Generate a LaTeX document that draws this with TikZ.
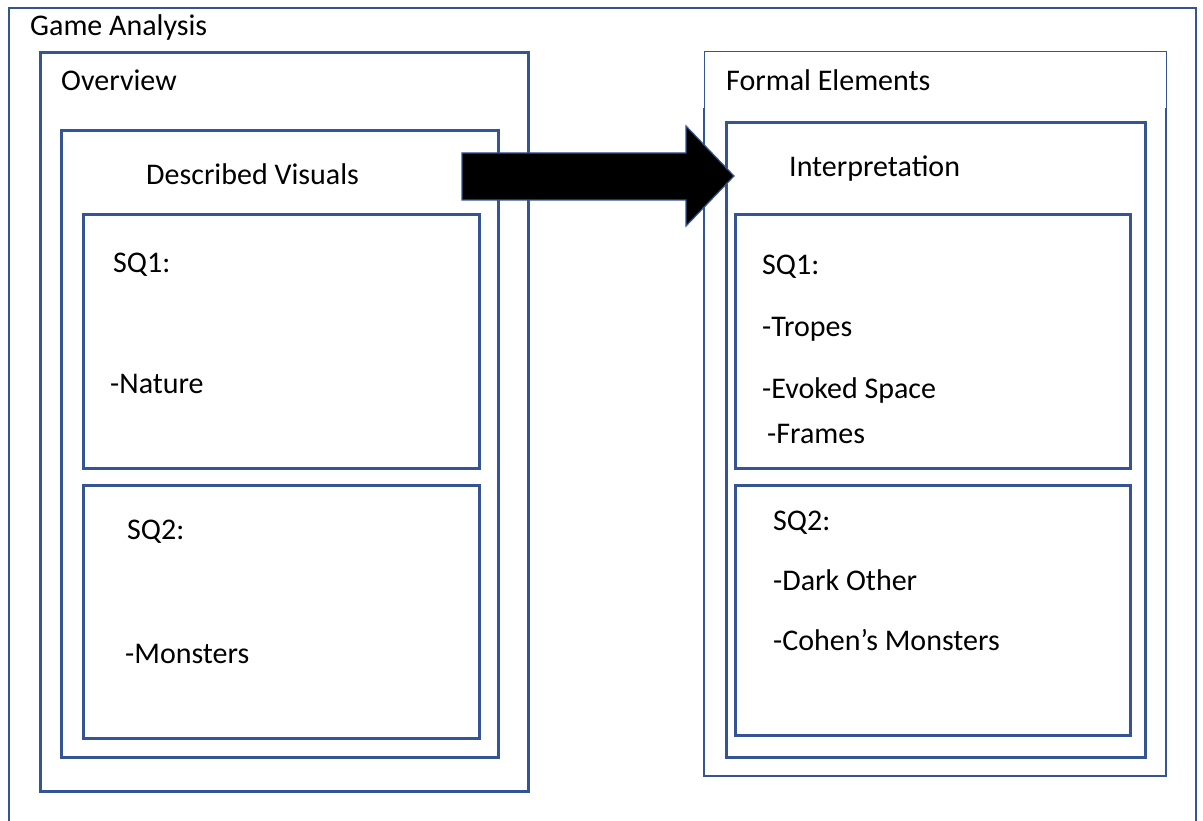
\documentclass[tikz,border=0pt]{standalone}
\usepackage{fontspec}
\setmainfont{Carlito}
\definecolor{boxblue}{RGB}{52,84,148}
\begin{document}
\begin{tikzpicture}[x=1pt,y=-1pt,
  frame/.style={draw=boxblue,line width=2.8pt,rectangle,inner sep=0pt,anchor=north west},
  lbl/.style={anchor=base west,inner sep=0pt,font=\fontsize{30}{34}\selectfont,text=black}]
\useasboundingbox (0,0) rectangle (1203,821);
% outer frame (open at the bottom)
\draw[boxblue,line width=2.2pt] (9,830) -- (9,8) -- (1196,8) -- (1196,830);
% left column
\node[frame,minimum width=488pt,minimum height=739pt] (ov) at (39,51) {};
\node[frame,minimum width=437pt,minimum height=627pt] (dv) at (60,129) {};
\node[frame,minimum width=396pt,minimum height=254pt] (lsq1) at (82,213) {};
\node[frame,minimum width=396pt,minimum height=253pt] (lsq2) at (82,484) {};
% right column
\node[draw=boxblue,line width=1pt,rectangle,inner sep=0pt,anchor=north west,minimum width=462pt,minimum height=725pt] (fe) at (704,51) {};
\draw[boxblue,line width=2.8pt] (704,108) -- (704,776) -- (1166,776) -- (1166,108);
\node[frame,minimum width=419pt,minimum height=635pt] (ip) at (725,121) {};
\node[frame,minimum width=395pt,minimum height=254pt] (rsq1) at (734,213) {};
\node[frame,minimum width=395pt,minimum height=250pt] (rsq2) at (734,484) {};
% texts
\node[lbl] (tga) at (30,36) {Game Analysis};
\node[lbl] (tov) at (61,91) {Overview};
\node[lbl] (tdv) at (146,185) {Described Visuals};
\node[lbl] (tl1) at (113,273) {SQ1:};
\node[lbl] (tnat) at (110,393) {-Nature};
\node[lbl] (tl2) at (127,539) {SQ2:};
\node[lbl] (tmon) at (125,663) {-Monsters};
\node[lbl] (tfe) at (726,91) {Formal Elements};
\node[lbl] (tip) at (789,177) {Interpretation};
\node[lbl] (tr1) at (762,275) {SQ1:};
\node[lbl] (ttr) at (762,336) {-Tropes};
\node[lbl] (tev) at (762,398) {-Evoked Space};
\node[lbl] (tfr) at (767,443) {-Frames};
\node[lbl] (tr2) at (773,530) {SQ2:};
\node[lbl] (tdo) at (773,590) {-Dark Other};
\node[lbl] (tco) at (773,650) {-Cohen’s Monsters};
% block arrow
\draw[fill=black,draw=boxblue,line width=1.2pt,line join=miter]
  (462,153) -- (686,153) -- (686,126) -- (734,176) -- (686,226) -- (686,200) -- (462,200) -- cycle;
\end{tikzpicture}
\end{document}
